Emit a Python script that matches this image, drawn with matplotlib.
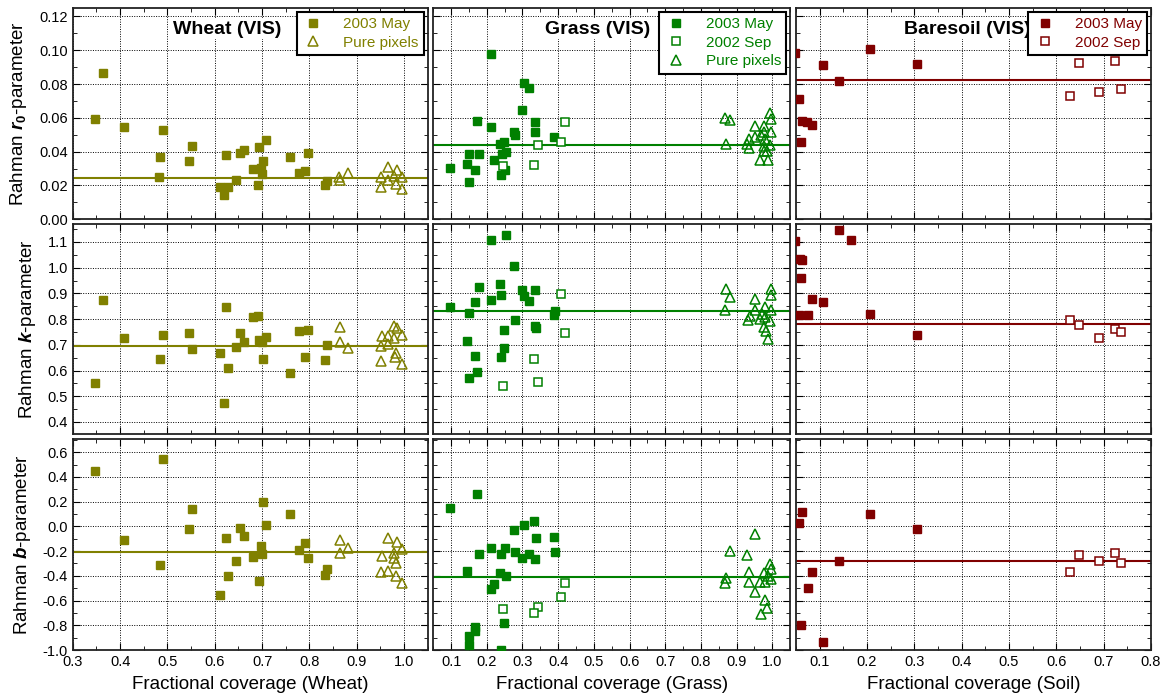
import matplotlib
matplotlib.use('Agg')
import matplotlib.pyplot as plt
from matplotlib.ticker import MultipleLocator, FormatStrFormatter

plt.rcParams['font.family'] = ['Liberation Sans', 'DejaVu Sans']
plt.rcParams['mathtext.fontset'] = 'custom'
plt.rcParams['mathtext.rm'] = 'Liberation Sans'
plt.rcParams['mathtext.it'] = 'Liberation Sans:italic'
plt.rcParams['mathtext.bf'] = 'Liberation Sans:bold'
plt.rcParams['mathtext.bfit'] = 'Liberation Sans:bold:italic'
plt.rcParams['axes.unicode_minus'] = False

# ---------------- Wheat ----------------
wheat_may_r0_x = [0.348, 0.364, 0.408, 0.482, 0.484, 0.491, 0.545, 0.551, 0.612, 0.619, 0.623, 0.629, 0.644, 0.654,
                  0.662, 0.680, 0.691, 0.693, 0.698, 0.699, 0.703, 0.709, 0.759, 0.778, 0.791, 0.796, 0.832, 0.838]
wheat_may_r0_y = [0.0596, 0.0863, 0.0547, 0.0253, 0.0370, 0.0531, 0.0345, 0.0436, 0.0192, 0.0141, 0.0380, 0.0192, 0.0234, 0.0392,
                  0.0410, 0.0299, 0.0200, 0.0428, 0.0303, 0.0269, 0.0347, 0.0469, 0.0370, 0.0271, 0.0283, 0.0390, 0.0202, 0.0228]
wheat_pure_r0_x = [0.863, 0.865, 0.881, 0.951, 0.951, 0.966, 0.966, 0.978, 0.982, 0.985, 0.996, 0.996]
wheat_pure_r0_y = [0.0248, 0.0234, 0.0271, 0.0248, 0.0192, 0.0307, 0.0234, 0.0257, 0.0208, 0.0291, 0.0253, 0.0180]

wheat_may_k_x = [0.348, 0.364, 0.408, 0.484, 0.491, 0.545, 0.551, 0.612, 0.619, 0.623, 0.629, 0.644, 0.654, 0.662,
                 0.680, 0.691, 0.693, 0.699, 0.703, 0.709, 0.759, 0.778, 0.791, 0.796, 0.832, 0.838]
wheat_may_k_y = [0.551, 0.874, 0.725, 0.643, 0.738, 0.746, 0.685, 0.668, 0.474, 0.848, 0.611, 0.691, 0.746, 0.710,
                 0.808, 0.811, 0.720, 0.710, 0.643, 0.729, 0.592, 0.755, 0.654, 0.759, 0.640, 0.698]
wheat_pure_k_x = [0.865, 0.865, 0.881, 0.951, 0.951, 0.954, 0.966, 0.967, 0.978, 0.978, 0.980, 0.982, 0.985, 0.996, 0.996]
wheat_pure_k_y = [0.769, 0.711, 0.686, 0.697, 0.636, 0.733, 0.736, 0.704, 0.772, 0.726, 0.653, 0.668, 0.765, 0.739, 0.627]

wheat_may_b_x = [0.348, 0.408, 0.484, 0.491, 0.545, 0.551, 0.612, 0.623, 0.629, 0.644, 0.654, 0.662, 0.680, 0.693,
                 0.698, 0.699, 0.703, 0.709, 0.759, 0.778, 0.791, 0.796, 0.832, 0.838]
wheat_may_b_y = [0.447, -0.108, -0.309, 0.541, -0.025, 0.139, -0.555, -0.097, -0.400, -0.282, -0.011, -0.076, -0.247, -0.440,
                 -0.159, -0.220, 0.195, 0.008, 0.096, -0.194, -0.132, -0.258, -0.392, -0.344]
wheat_pure_b_x = [0.865, 0.865, 0.881, 0.951, 0.954, 0.966, 0.966, 0.978, 0.978, 0.982, 0.982, 0.985, 0.996, 0.996]
wheat_pure_b_y = [-0.113, -0.212, -0.175, -0.368, -0.242, -0.092, -0.360, -0.212, -0.253, -0.293, -0.400, -0.124, -0.180, -0.454]

wheat_mean = [0.0247, 0.697, -0.207]

# ---------------- Grass ----------------
grass_may_r0_x = [0.212, 0.305, 0.317, 0.298, 0.172, 0.211, 0.336, 0.335, 0.277, 0.279, 0.388, 0.249, 0.238, 0.254,
                  0.242, 0.150, 0.177, 0.220, 0.145, 0.097, 0.166, 0.251, 0.239, 0.151]
grass_may_r0_y = [0.0976, 0.0808, 0.0774, 0.0645, 0.0584, 0.0545, 0.0576, 0.0515, 0.0515, 0.0501, 0.0485, 0.0457, 0.0446, 0.0400,
                  0.0386, 0.0386, 0.0386, 0.0350, 0.0327, 0.0303, 0.0293, 0.0291, 0.0263, 0.0222]
grass_sep_r0_x = [0.420, 0.343, 0.408, 0.245, 0.333]
grass_sep_r0_y = [0.0578, 0.0438, 0.0457, 0.0317, 0.0323]
grass_pure_r0_x = [0.867, 0.882, 0.870, 0.995, 0.997, 0.952, 0.978, 0.997, 0.978, 0.952, 0.936, 0.980, 0.969, 0.929,
                   0.995, 0.978, 0.934, 0.978, 0.986, 0.966, 0.988]
grass_pure_r0_y = [0.0600, 0.0586, 0.0446, 0.0630, 0.0596, 0.0554, 0.0554, 0.0515, 0.0515, 0.0487, 0.0475, 0.0475, 0.0501, 0.0446,
                   0.0442, 0.0432, 0.0422, 0.0402, 0.0402, 0.0348, 0.0352]

grass_may_k_x = [0.212, 0.253, 0.277, 0.238, 0.177, 0.240, 0.298, 0.335, 0.305, 0.317, 0.211, 0.166, 0.097, 0.151,
                 0.391, 0.388, 0.278, 0.249, 0.334, 0.338, 0.145, 0.166, 0.248, 0.241, 0.172, 0.150]
grass_may_k_y = [1.109, 1.129, 1.008, 0.937, 0.926, 0.895, 0.912, 0.913, 0.889, 0.872, 0.874, 0.867, 0.846, 0.822,
                 0.830, 0.817, 0.795, 0.759, 0.772, 0.765, 0.713, 0.658, 0.686, 0.654, 0.594, 0.572]
grass_sep_k_x = [0.408, 0.420, 0.333, 0.245, 0.343]
grass_sep_k_y = [0.896, 0.745, 0.645, 0.540, 0.554]
grass_pure_k_x = [0.870, 0.882, 0.867, 0.953, 0.996, 0.996, 0.953, 0.979, 0.997, 0.972, 0.937, 0.931, 0.967, 0.981,
                  0.995, 0.978, 0.984, 0.988]
grass_pure_k_y = [0.916, 0.886, 0.834, 0.880, 0.916, 0.894, 0.834, 0.847, 0.834, 0.821, 0.812, 0.797, 0.800, 0.808,
                  0.791, 0.769, 0.752, 0.724]

grass_may_b_x = [0.173, 0.098, 0.333, 0.305, 0.277, 0.338, 0.387, 0.211, 0.250, 0.279, 0.391, 0.177, 0.241, 0.298,
                 0.317, 0.335, 0.145, 0.238, 0.254, 0.220, 0.211, 0.249, 0.166, 0.166, 0.151, 0.151, 0.239]
grass_may_b_y = [0.262, 0.147, 0.040, 0.010, -0.033, -0.092, -0.086, -0.172, -0.172, -0.204, -0.207, -0.220, -0.226, -0.255,
                 -0.223, -0.263, -0.362, -0.381, -0.400, -0.464, -0.504, -0.778, -0.810, -0.850, -0.890, -0.958, -1.003]
grass_sep_b_x = [0.420, 0.408, 0.245, 0.343, 0.333]
grass_sep_b_y = [-0.459, -0.572, -0.668, -0.649, -0.703]
grass_pure_b_x = [0.952, 0.882, 0.929, 0.935, 0.995, 0.997, 0.978, 0.988, 0.997, 0.870, 0.867, 0.936, 0.967, 0.981,
                  0.952, 0.979, 0.986, 0.969]
grass_pure_b_y = [-0.060, -0.199, -0.234, -0.368, -0.306, -0.341, -0.381, -0.400, -0.427, -0.421, -0.459, -0.448, -0.448, -0.448,
                  -0.534, -0.596, -0.660, -0.708]

grass_mean = [0.0438, 0.832, -0.411]

# ---------------- Bare soil ----------------
soil_may_r0_x = [0.049, 0.057, 0.062, 0.073, 0.083, 0.061, 0.108, 0.141, 0.207, 0.305]
soil_may_r0_y = [0.0986, 0.0709, 0.0580, 0.0574, 0.0556, 0.0459, 0.0915, 0.0818, 0.1006, 0.0921]
soil_sep_r0_x = [0.629, 0.649, 0.691, 0.724, 0.736]
soil_sep_r0_y = [0.0729, 0.0927, 0.0752, 0.0937, 0.0772]

soil_may_k_x = [0.141, 0.166, 0.049, 0.059, 0.062, 0.060, 0.083, 0.108, 0.057, 0.075, 0.207, 0.305]
soil_may_k_y = [1.145, 1.106, 1.103, 1.034, 1.030, 0.961, 0.877, 0.865, 0.817, 0.817, 0.821, 0.739]
soil_sep_k_x = [0.629, 0.649, 0.691, 0.724, 0.736]
soil_sep_k_y = [0.798, 0.776, 0.726, 0.763, 0.751]

soil_may_b_x = [0.063, 0.057, 0.207, 0.305, 0.141, 0.084, 0.075, 0.061, 0.108]
soil_may_b_y = [0.117, 0.029, 0.104, -0.025, -0.279, -0.365, -0.499, -0.799, -0.936]
soil_sep_b_x = [0.629, 0.649, 0.691, 0.724, 0.736]
soil_sep_b_y = [-0.368, -0.234, -0.279, -0.218, -0.295]

soil_mean = [0.0824, 0.782, -0.279]

olive = '#808000'
green = '#008000'
darkred = '#800000'

fig = plt.figure(figsize=(11.62, 7.0), dpi=100)

lefts = [0.0626, 0.3729, 0.685]
widths = [0.3055, 0.307, 0.3055]
bottoms = [0.6867, 0.38, 0.0714]
heights = [0.302, 0.30, 0.301]

xlims = [(0.3, 1.05), (0.05, 1.05), (0.05, 0.8)]
ylims = [(0.0, 0.125), (0.353, 1.17), (-1.0, 0.704)]
ymajor = [0.02, 0.1, 0.2]
yminor = [0.01, 0.05, 0.1]
yfmt = ['%.2f', '%.1f', '%.1f']
ylabels = [r'Rahman $\mathbfit{r}_{\mathbf{0}}$-parameter',
           r'Rahman $\mathbfit{k}$-parameter',
           r'Rahman $\mathbfit{b}$-parameter']
xlabels = ['Fractional coverage (Wheat)', 'Fractional coverage (Grass)', 'Fractional coverage (Soil)']
titles = ['Wheat (VIS)', 'Grass (VIS)', 'Baresoil (VIS)']
title_x = [0.434, 0.46, 0.483]

series = [
    # wheat
    [[(wheat_may_r0_x, wheat_may_r0_y, 's', '2003 May'), (wheat_pure_r0_x, wheat_pure_r0_y, '^', 'Pure pixels')],
     [(wheat_may_k_x, wheat_may_k_y, 's', '2003 May'), (wheat_pure_k_x, wheat_pure_k_y, '^', 'Pure pixels')],
     [(wheat_may_b_x, wheat_may_b_y, 's', '2003 May'), (wheat_pure_b_x, wheat_pure_b_y, '^', 'Pure pixels')]],
    # grass
    [[(grass_may_r0_x, grass_may_r0_y, 's', '2003 May'), (grass_sep_r0_x, grass_sep_r0_y, 'so', '2002 Sep'),
      (grass_pure_r0_x, grass_pure_r0_y, '^', 'Pure pixels')],
     [(grass_may_k_x, grass_may_k_y, 's', '2003 May'), (grass_sep_k_x, grass_sep_k_y, 'so', '2002 Sep'),
      (grass_pure_k_x, grass_pure_k_y, '^', 'Pure pixels')],
     [(grass_may_b_x, grass_may_b_y, 's', '2003 May'), (grass_sep_b_x, grass_sep_b_y, 'so', '2002 Sep'),
      (grass_pure_b_x, grass_pure_b_y, '^', 'Pure pixels')]],
    # soil
    [[(soil_may_r0_x, soil_may_r0_y, 's', '2003 May'), (soil_sep_r0_x, soil_sep_r0_y, 'so', '2002 Sep')],
     [(soil_may_k_x, soil_may_k_y, 's', '2003 May'), (soil_sep_k_x, soil_sep_k_y, 'so', '2002 Sep')],
     [(soil_may_b_x, soil_may_b_y, 's', '2003 May'), (soil_sep_b_x, soil_sep_b_y, 'so', '2002 Sep')]],
]
colors = [olive, green, darkred]
means = [wheat_mean, grass_mean, soil_mean]

for col in range(3):
    c = colors[col]
    for row in range(3):
        ax = fig.add_axes([lefts[col], bottoms[row], widths[col], heights[row]])
        ax.axhline(means[col][row], color=c, lw=1.5, zorder=2)
        for x, y, kind, lab in series[col][row]:
            if kind == 's':
                ax.plot(x, y, 's', ms=5.8, color=c, mec=c, label=lab, zorder=3)
            elif kind == 'so':
                ax.plot(x, y, 's', ms=5.8, mfc='white', mec=c, mew=1.1, label=lab, zorder=3)
            else:
                ax.plot(x, y, '^', ms=7.2, mfc='none', mec=c, mew=1.1, label=lab, zorder=3)

        ax.set_xlim(xlims[col])
        ax.set_ylim(ylims[row])
        ax.xaxis.set_major_locator(MultipleLocator(0.1))
        ax.xaxis.set_minor_locator(MultipleLocator(0.05))
        ax.yaxis.set_major_locator(MultipleLocator(ymajor[row]))
        ax.yaxis.set_minor_locator(MultipleLocator(yminor[row]))
        ax.xaxis.set_major_formatter(FormatStrFormatter('%.1f'))
        ax.yaxis.set_major_formatter(FormatStrFormatter(yfmt[row]))
        ax.tick_params(which='both', direction='in', top=True, right=True, labelsize=10.5)
        ax.tick_params(which='major', length=5)
        ax.tick_params(which='minor', length=3)
        ax.grid(True, which='major', linestyle=(0, (1, 1.5)), color='black', linewidth=0.7)
        for s in ax.spines.values():
            s.set_linewidth(1.3)
            s.set_color('#222222')

        if row < 2:
            ax.tick_params(labelbottom=False)
        else:
            ax.set_xlabel(xlabels[col], fontsize=13.5, labelpad=5)
        if col > 0:
            ax.tick_params(labelleft=False)
        else:
            ax.set_ylabel(ylabels[row], fontsize=13.5, labelpad=7)

        if row == 0:
            ax.text(title_x[col], 0.9, titles[col], transform=ax.transAxes, ha='center', va='center',
                    fontsize=14, fontweight='bold', zorder=5,
                    bbox=dict(facecolor='white', edgecolor='none', pad=1))
            leg = ax.legend(loc='upper right', fontsize=11, labelcolor=c, fancybox=False, framealpha=1,
                            edgecolor='black', borderaxespad=0.25, borderpad=0.35, labelspacing=0.3,
                            handlelength=1.5, handletextpad=1.2)
            leg.get_frame().set_linewidth(1.5)

fig.savefig('out.png', dpi=100)
